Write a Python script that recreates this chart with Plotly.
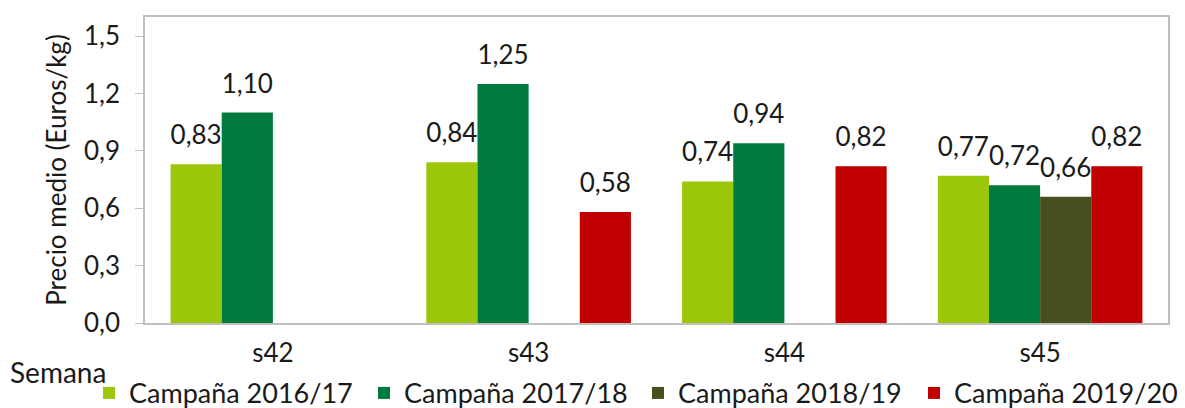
import plotly.graph_objects as go

weeks = ["s42", "s43", "s44", "s45"]
series_names = ["Campaña 2016/17", "Campaña 2017/18", "Campaña 2018/19", "Campaña 2019/20"]
c2016 = [0.83, 0.84, 0.74, 0.77]
c2017 = [1.10, 1.25, 0.94, 0.72]
c2018 = [None, None, None, 0.66]
c2019 = [None, 0.58, 0.82, 0.82]
colors = ["#9BC70A", "#007A3D", "#474F1F", "#C00000"]

FONT = "Lato, Open Sans, sans-serif"
FS = 26
TXT = "#1a1a1a"

# left edge of each legend square in pixels (layout guide)
legend_px = [103, 378, 652, 928]
PLOT_L, PLOT_W = 145, 1023

fig = go.Figure()
legend_ids = ["legend", "legend2", "legend3", "legend4"]
for i, (name, vals, col, lid) in enumerate(zip(series_names, [c2016, c2017, c2018, c2019], colors, legend_ids)):
    fig.add_trace(go.Bar(
        x=weeks, y=vals, name=name, offsetgroup=str(i), alignmentgroup="a",
        marker=dict(color=col, line=dict(width=0)),
        legend=lid,
    ))
for i, vals in enumerate([c2016, c2017, c2018, c2019]):
    txt = ["" if v is None else f"{v:.2f}".replace(".", ",") for v in vals]
    fig.add_trace(go.Scatter(
        x=weeks, y=vals, mode="markers+text", text=txt, textposition="top center",
        marker=dict(size=20, color="rgba(0,0,0,0)"),
        offsetgroup=str(i), alignmentgroup="a", showlegend=False, hoverinfo="skip",
        cliponaxis=False, textfont=dict(size=FS, color=TXT, family=FONT),
    ))

legends = {}
for lid, px in zip(legend_ids, legend_px):
    legends[lid] = dict(orientation="h", x=(px - 14 - PLOT_L) / PLOT_W, xanchor="left",
                        y=-0.23, yanchor="middle", bgcolor="rgba(0,0,0,0)",
                        font=dict(size=27, family=FONT, color=TXT), itemwidth=30)

fig.update_layout(
    width=1185, height=408,
    margin=dict(l=145, r=17, t=17, b=85, autoexpand=False),
    barmode="group", bargap=0.2, bargroupgap=0,
    scattermode="group", scattergap=0.2,
    paper_bgcolor="white", plot_bgcolor="white",
    separators=",.",
    font=dict(family=FONT, size=FS, color=TXT),
    showlegend=True,
    annotations=[dict(text="Semana", xref="paper", yref="paper", x=-0.134, y=-0.16,
                      xanchor="left", yanchor="middle", showarrow=False,
                      font=dict(size=28, family=FONT, color=TXT))],
    **legends,
)
fig.update_xaxes(showline=True, linecolor="#BFBFBF", linewidth=1.5, mirror=True,
                 ticks="", tickfont=dict(size=FS), showgrid=False, ticklabelstandoff=6)
fig.update_yaxes(range=[0, 1.6], tickvals=[0, 0.3, 0.6, 0.9, 1.2, 1.5], tickformat=".1f",
                 showline=True, linecolor="#BFBFBF", linewidth=1.5, mirror=True,
                 ticks="outside", ticklen=8, tickcolor="#BFBFBF", tickfont=dict(size=FS),
                 showgrid=False, zeroline=False, ticklabelstandoff=10,
                 title=dict(text="Precio medio (Euros/kg)", font=dict(size=FS), standoff=10))

fig.write_html("out.html", config={"displayModeBar": False},
               post_script="document.body.style.margin='0';")
